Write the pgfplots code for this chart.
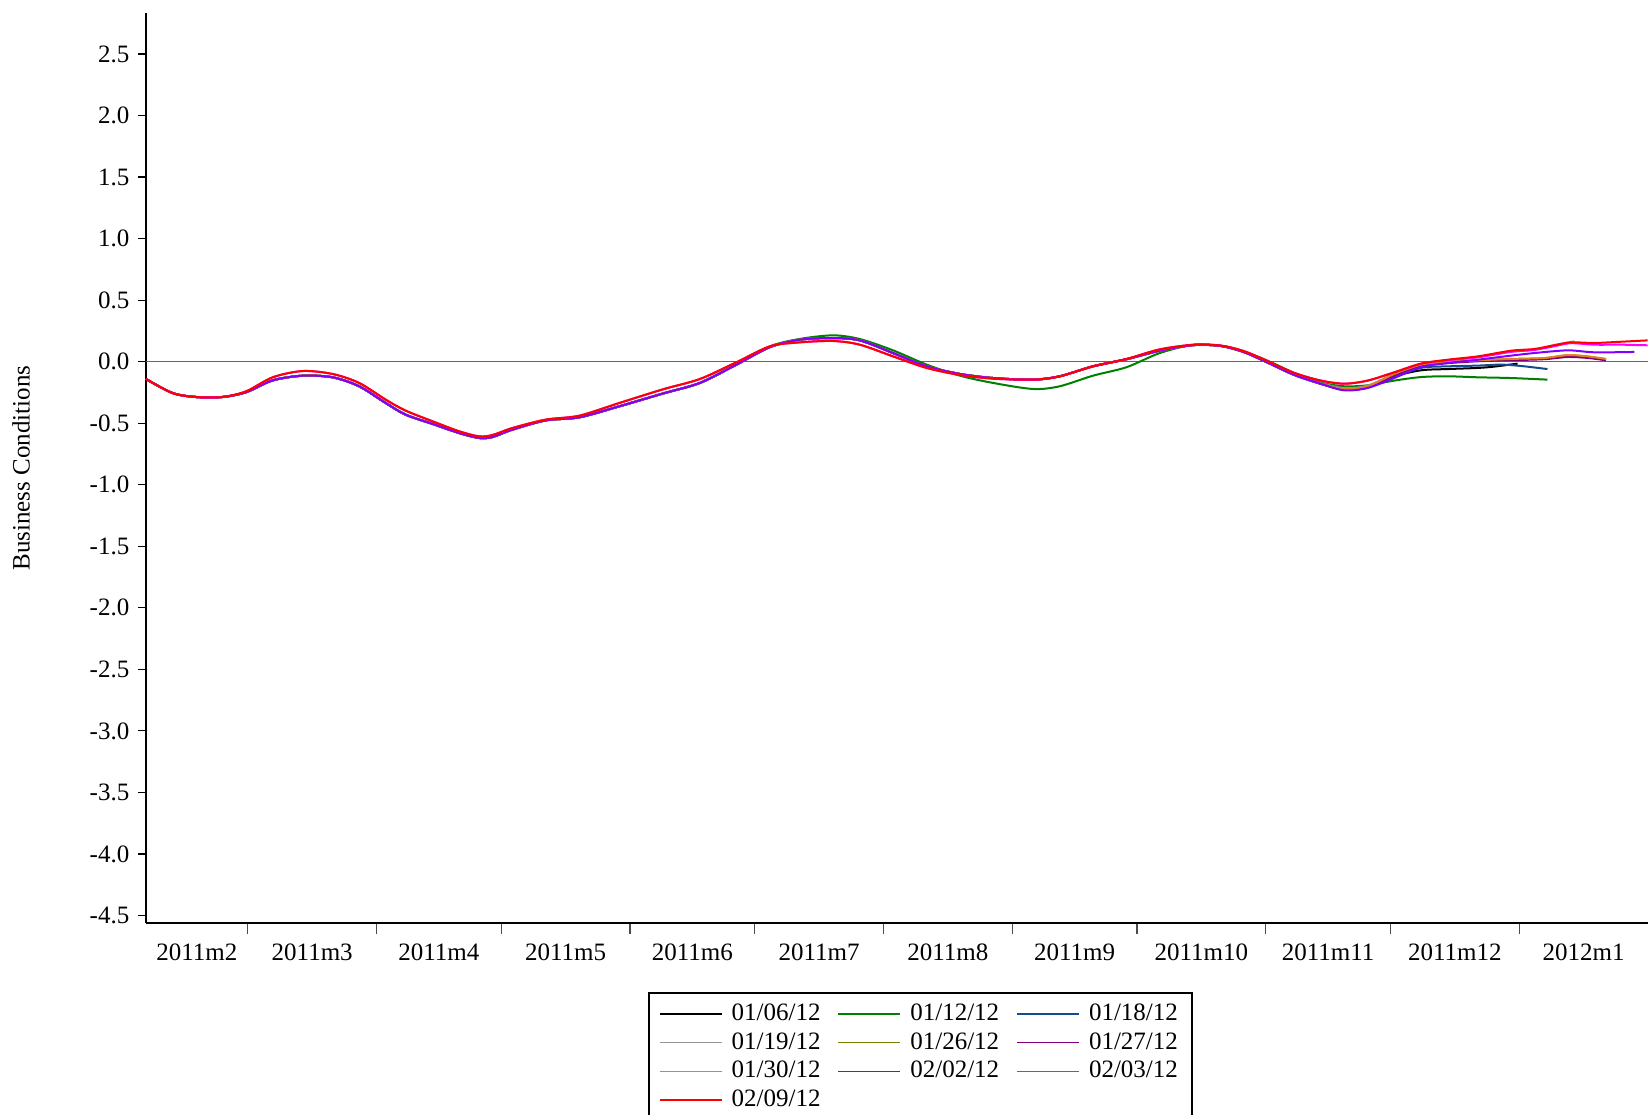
\documentclass[border=0pt]{standalone}
\usepackage{pgfplots}
\pgfplotsset{compat=1.18}
\usepackage{fontspec}
\setmainfont{Liberation Serif}
\definecolor{cA}{RGB}{0,0,0}
\definecolor{cB}{RGB}{0,128,0}
\definecolor{cC}{RGB}{20,75,140}
\definecolor{cD}{RGB}{150,150,150}
\definecolor{cE}{RGB}{128,128,0}
\definecolor{cF}{RGB}{128,0,128}
\definecolor{cG}{RGB}{225,130,30}
\definecolor{cH}{RGB}{128,0,255}
\definecolor{cI}{RGB}{255,0,255}
\definecolor{cJ}{RGB}{255,0,0}
\newcommand{\fs}{\fontsize{12.5}{15}\selectfont}
\begin{document}
\fs
\begin{tikzpicture}
\useasboundingbox (0,0) rectangle (824pt,557pt);
\clip (0,0) rectangle (824pt,557pt);
\begin{axis}[
  at={(73pt,95.5pt)}, anchor=south west,
  scale only axis, width=751pt, height=455pt,
  xmin=34.5, xmax=396, ymin=-4.561, ymax=2.833,
  axis x line*=bottom, axis y line*=left,
  axis line style={line width=1.3pt, -},
  tick align=outside,
  xtick={46.75,74.5,105,135.5,166,196.5,227.5,258,288.5,319,349.5,380.5},
  xticklabels={2011m2,2011m3,2011m4,2011m5,2011m6,2011m7,2011m8,2011m9,2011m10,2011m11,2011m12,2012m1},
  major x tick style={draw=none},
  minor xtick={59,90,120,151,181,212,243,273,304,334,365},
  minor x tick style={draw=black!70, line width=0.6pt},
  minor tick length=5.5pt,
  major tick length=4pt,
  y tick style={draw=black, line width=0.6pt},
  ytick={-4.5,-4,-3.5,-3,-2.5,-2,-1.5,-1,-0.5,0,0.5,1,1.5,2,2.5},
  /pgf/number format/assume math mode=true,
  yticklabel style={/pgf/number format/.cd, fixed, fixed zerofill, precision=1},
  xticklabel style={yshift=-2pt},
  tick label style={font=\fs},
  ylabel={Business Conditions},
  ylabel style={at={(axis description cs:-0.0832,0.5)}, anchor=center, font=\fs},
  legend columns=3,
  legend cell align=left,
  legend image code/.code={\draw[#1, line width=0.7pt] (0pt,0pt) -- (31pt,0pt);},
  legend style={at={(axis description cs:0.3343,-0.0758)}, anchor=north west,
    draw=black, line width=0.9pt, font=\fs, inner xsep=5pt, inner ysep=3.5pt,
    nodes={inner xsep=2pt, inner ysep=1.9pt, text height=8.5pt, text depth=2pt},
    /tikz/every odd column/.append style={column sep=2.6pt},
    /tikz/every even column/.append style={column sep=6.6pt}},
  every axis plot/.append style={line width=1pt, smooth, tension=0.5},
]
\addplot[black!60, line width=0.7pt, forget plot, sharp plot] coordinates {(34.5,0) (396,0)};
% 01/06/12
\addplot[cA] coordinates {(34.5,-0.141) (40.9,-0.255) (46.5,-0.287) (52.9,-0.287) (58.6,-0.248) (65.0,-0.152) (72.2,-0.114) (79.4,-0.127) (85.8,-0.200) (92.2,-0.336) (97.0,-0.431) (103.5,-0.506) (109.9,-0.580) (114.7,-0.620) (117.9,-0.612) (122.7,-0.552) (130.7,-0.477) (138.8,-0.452) (148.4,-0.363) (159.0,-0.258) (167.8,-0.173) (176.6,-0.024) (184.7,0.119) (191.9,0.179) (199.9,0.192) (206.3,0.173) (214.3,0.070) (222.4,-0.038) (230.4,-0.100) (238.4,-0.133) (248.0,-0.146) (254.4,-0.119) (262.4,-0.038) (270.5,0.020) (278.8,0.092) (286.8,0.135) (293.3,0.127) (298.9,0.076) (304.5,-0.008) (310.9,-0.108) (317.3,-0.180) (322.9,-0.225) (328.5,-0.200) (334.9,-0.119) (341.4,-0.070) (347.8,-0.060) (355.0,-0.051) (359.0,-0.040) (364.6,-0.016)};
\addlegendentry{01/06/12}
% 01/12/12
\addplot[cB] coordinates {(34.5,-0.141) (40.9,-0.255) (46.5,-0.287) (52.9,-0.287) (58.6,-0.248) (65.0,-0.152) (72.2,-0.114) (79.4,-0.127) (85.8,-0.200) (92.2,-0.336) (97.0,-0.431) (103.5,-0.506) (109.9,-0.580) (114.7,-0.620) (117.9,-0.612) (122.7,-0.552) (130.7,-0.477) (138.8,-0.452) (148.4,-0.363) (159.0,-0.258) (167.8,-0.173) (176.6,-0.024) (184.7,0.125) (191.9,0.185) (199.9,0.214) (206.3,0.184) (214.3,0.092) (222.4,-0.024) (230.4,-0.114) (238.4,-0.173) (248.0,-0.222) (254.4,-0.200) (262.4,-0.114) (270.5,-0.045) (278.5,0.070) (286.8,0.138) (294.9,0.119) (302.9,0.030) (310.9,-0.092) (317.3,-0.170) (322.9,-0.200) (328.5,-0.192) (334.9,-0.154) (341.4,-0.125) (347.8,-0.119) (355.0,-0.127) (363.0,-0.133) (371.8,-0.146)};
\addlegendentry{01/12/12}
% 01/18/12
\addplot[cC] coordinates {(34.5,-0.141) (40.9,-0.255) (46.5,-0.287) (52.9,-0.287) (58.6,-0.248) (65.0,-0.152) (72.2,-0.114) (79.4,-0.127) (85.8,-0.200) (92.2,-0.336) (97.0,-0.431) (103.5,-0.506) (109.9,-0.580) (114.7,-0.620) (117.9,-0.612) (122.7,-0.552) (130.7,-0.477) (138.8,-0.452) (148.4,-0.363) (159.0,-0.258) (167.8,-0.173) (176.6,-0.024) (184.7,0.119) (191.9,0.179) (199.9,0.192) (206.3,0.173) (214.3,0.070) (222.4,-0.038) (230.4,-0.100) (238.4,-0.133) (248.0,-0.146) (254.4,-0.119) (262.4,-0.038) (270.5,0.020) (278.8,0.092) (286.8,0.135) (293.3,0.127) (298.9,0.076) (304.5,-0.008) (310.9,-0.108) (317.3,-0.180) (322.9,-0.228) (328.5,-0.210) (334.9,-0.125) (341.4,-0.050) (347.8,-0.038) (355.0,-0.032) (360.6,-0.024) (365.4,-0.035) (371.8,-0.060)};
\addlegendentry{01/18/12}
% 01/19/12
\addplot[cD] coordinates {(34.5,-0.141) (40.9,-0.255) (46.5,-0.287) (52.9,-0.287) (58.6,-0.248) (65.0,-0.152) (72.2,-0.114) (79.4,-0.127) (85.8,-0.200) (92.2,-0.336) (97.0,-0.431) (103.5,-0.506) (109.9,-0.580) (114.7,-0.620) (117.9,-0.612) (122.7,-0.552) (130.7,-0.477) (138.8,-0.452) (148.4,-0.363) (159.0,-0.258) (167.8,-0.173) (176.6,-0.024) (184.7,0.119) (191.9,0.179) (199.9,0.192) (206.3,0.173) (214.3,0.070) (222.4,-0.038) (230.4,-0.100) (238.4,-0.133) (248.0,-0.146) (254.4,-0.119) (262.4,-0.038) (270.5,0.020) (278.8,0.092) (286.8,0.135) (293.3,0.127) (298.9,0.076) (304.5,-0.008) (310.9,-0.108) (317.3,-0.175) (322.9,-0.215) (328.5,-0.195) (334.9,-0.100) (341.4,-0.025) (347.8,0.010) (355.0,0.038) (363.0,0.080) (368.6,0.098) (373.4,0.135) (378.3,0.165)};
\addlegendentry{01/19/12}
% 01/26/12
\addplot[cE] coordinates {(34.5,-0.141) (40.9,-0.255) (46.5,-0.287) (52.9,-0.287) (58.6,-0.248) (65.0,-0.152) (72.2,-0.114) (79.4,-0.127) (85.8,-0.200) (92.2,-0.336) (97.0,-0.431) (103.5,-0.506) (109.9,-0.580) (114.7,-0.620) (117.9,-0.612) (122.7,-0.552) (130.7,-0.477) (138.8,-0.452) (148.4,-0.363) (159.0,-0.258) (167.8,-0.173) (176.6,-0.024) (184.7,0.119) (191.9,0.179) (199.9,0.192) (206.3,0.173) (214.3,0.070) (222.4,-0.038) (230.4,-0.100) (238.4,-0.133) (248.0,-0.146) (254.4,-0.119) (262.4,-0.038) (270.5,0.020) (278.8,0.092) (286.8,0.135) (293.3,0.127) (298.9,0.076) (304.5,-0.008) (310.9,-0.108) (317.3,-0.180) (322.9,-0.225) (328.5,-0.205) (334.9,-0.105) (341.4,-0.030) (347.8,-0.005) (355.0,0.010) (363.0,0.020) (371.0,0.028) (376.7,0.050) (381.5,0.040) (385.9,0.020)};
\addlegendentry{01/26/12}
% 01/27/12
\addplot[cF] coordinates {(34.5,-0.141) (40.9,-0.255) (46.5,-0.287) (52.9,-0.287) (58.6,-0.248) (65.0,-0.152) (72.2,-0.114) (79.4,-0.127) (85.8,-0.200) (92.2,-0.336) (97.0,-0.431) (103.5,-0.506) (109.9,-0.580) (114.7,-0.620) (117.9,-0.612) (122.7,-0.552) (130.7,-0.477) (138.8,-0.452) (148.4,-0.363) (159.0,-0.258) (167.8,-0.173) (176.6,-0.024) (184.7,0.119) (191.9,0.179) (199.9,0.192) (206.3,0.173) (214.3,0.070) (222.4,-0.038) (230.4,-0.100) (238.4,-0.133) (248.0,-0.146) (254.4,-0.119) (262.4,-0.038) (270.5,0.020) (278.8,0.092) (286.8,0.135) (293.3,0.127) (298.9,0.076) (304.5,-0.008) (310.9,-0.108) (317.3,-0.180) (322.9,-0.228) (328.5,-0.210) (334.9,-0.110) (341.4,-0.035) (347.8,-0.012) (355.0,0.003) (363.0,0.012) (371.0,0.020) (376.7,0.038) (381.5,0.030) (385.9,0.011)};
\addlegendentry{01/27/12}
% 01/30/12
\addplot[cG] coordinates {(34.5,-0.141) (40.9,-0.255) (46.5,-0.287) (52.9,-0.287) (58.6,-0.248) (65.0,-0.152) (72.2,-0.114) (79.4,-0.127) (85.8,-0.200) (92.2,-0.336) (97.0,-0.431) (103.5,-0.506) (109.9,-0.580) (114.7,-0.620) (117.9,-0.612) (122.7,-0.552) (130.7,-0.477) (138.8,-0.452) (148.4,-0.363) (159.0,-0.258) (167.8,-0.173) (176.6,-0.024) (184.7,0.119) (191.9,0.179) (199.9,0.192) (206.3,0.173) (214.3,0.070) (222.4,-0.038) (230.4,-0.100) (238.4,-0.133) (248.0,-0.146) (254.4,-0.119) (262.4,-0.038) (270.5,0.020) (278.8,0.092) (286.8,0.135) (293.3,0.127) (298.9,0.076) (304.5,-0.008) (310.9,-0.108) (317.3,-0.180) (322.9,-0.222) (328.5,-0.200) (334.9,-0.100) (341.4,-0.024) (347.8,-0.003) (355.0,0.011) (363.0,0.022) (371.0,0.030) (376.7,0.054) (381.5,0.043) (385.9,0.022)};
\addlegendentry{01/30/12}
% 02/02/12
\addplot[cH] coordinates {(34.5,-0.141) (40.9,-0.255) (46.5,-0.287) (52.9,-0.287) (58.6,-0.248) (65.0,-0.152) (72.2,-0.114) (79.4,-0.127) (85.8,-0.200) (92.2,-0.336) (97.0,-0.431) (103.5,-0.506) (109.9,-0.580) (114.7,-0.620) (117.9,-0.612) (122.7,-0.552) (130.7,-0.477) (138.8,-0.452) (148.4,-0.363) (159.0,-0.258) (167.8,-0.173) (176.6,-0.024) (184.7,0.119) (191.9,0.179) (199.9,0.192) (206.3,0.173) (214.3,0.070) (222.4,-0.038) (230.4,-0.100) (238.4,-0.133) (248.0,-0.146) (254.4,-0.119) (262.4,-0.038) (270.5,0.020) (278.8,0.092) (286.8,0.135) (293.3,0.127) (298.9,0.076) (304.5,-0.008) (310.9,-0.108) (317.3,-0.180) (322.9,-0.233) (328.5,-0.214) (334.9,-0.133) (341.4,-0.043) (347.8,-0.011) (355.0,0.016) (363.0,0.049) (368.6,0.070) (376.7,0.092) (383.1,0.076) (392.7,0.079)};
\addlegendentry{02/02/12}
% 02/03/12
\addplot[cI] coordinates {(34.5,-0.141) (40.9,-0.255) (46.5,-0.287) (52.9,-0.287) (58.6,-0.241) (65.0,-0.127) (72.2,-0.076) (79.4,-0.100) (85.8,-0.173) (92.2,-0.309) (97.0,-0.398) (103.5,-0.485) (109.9,-0.566) (114.7,-0.607) (117.9,-0.596) (122.7,-0.539) (130.7,-0.471) (138.8,-0.439) (148.4,-0.336) (159.0,-0.224) (167.8,-0.141) (176.6,-0.005) (184.7,0.125) (191.9,0.157) (199.9,0.168) (206.3,0.138) (214.3,0.043) (222.4,-0.051) (230.4,-0.108) (238.4,-0.138) (248.0,-0.146) (254.4,-0.119) (262.4,-0.038) (270.5,0.022) (278.5,0.100) (286.8,0.138) (293.3,0.130) (298.9,0.084) (304.5,0.003) (310.9,-0.092) (317.3,-0.154) (322.9,-0.179) (328.5,-0.154) (334.9,-0.087) (341.4,-0.016) (347.8,0.012) (355.0,0.035) (363.0,0.080) (368.6,0.095) (373.4,0.125) (377.4,0.150) (383.1,0.138) (389.5,0.138) (395.9,0.133)};
\addlegendentry{02/03/12}
% 02/09/12
\addplot[cJ] coordinates {(34.5,-0.141) (40.9,-0.255) (46.5,-0.287) (52.9,-0.287) (58.6,-0.241) (65.0,-0.127) (72.2,-0.076) (79.4,-0.100) (85.8,-0.173) (92.2,-0.309) (97.0,-0.398) (103.5,-0.485) (109.9,-0.566) (114.7,-0.607) (117.9,-0.596) (122.7,-0.539) (130.7,-0.471) (138.8,-0.439) (148.4,-0.336) (159.0,-0.224) (167.8,-0.141) (176.6,-0.005) (184.7,0.125) (191.9,0.157) (199.9,0.168) (206.3,0.138) (214.3,0.043) (222.4,-0.051) (230.4,-0.108) (238.4,-0.138) (248.0,-0.146) (254.4,-0.119) (262.4,-0.038) (270.5,0.022) (278.5,0.100) (286.8,0.138) (293.3,0.130) (298.9,0.084) (304.5,0.003) (310.9,-0.092) (317.3,-0.154) (322.9,-0.179) (328.5,-0.154) (334.9,-0.087) (341.4,-0.016) (347.8,0.016) (355.0,0.043) (363.0,0.089) (368.6,0.103) (373.4,0.133) (377.4,0.157) (383.1,0.152) (389.5,0.162) (395.9,0.173)};
\addlegendentry{02/09/12}
\end{axis}
\end{tikzpicture}
\end{document}
